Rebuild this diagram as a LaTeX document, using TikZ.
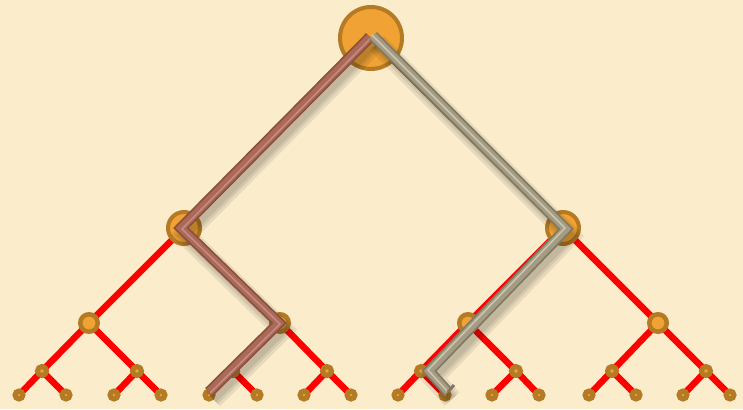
\documentclass[tikz,border=0pt]{standalone}
\usetikzlibrary{calc}

\pgfdeclarelayer{background}
\pgfsetlayers{background,main}

\definecolor{paper}{RGB}{251,236,203}
\definecolor{ring}{RGB}{181,122,36}
\definecolor{core}{RGB}{240,163,52}
\definecolor{branchred}{RGB}{255,0,0}
\definecolor{rosedark}{RGB}{138,80,62}
\definecolor{rosemid}{RGB}{172,106,86}
\definecolor{roselight}{RGB}{196,140,136}
\definecolor{sanddark}{RGB}{128,120,98}
\definecolor{sandmid}{RGB}{164,156,130}
\definecolor{sandlight}{RGB}{204,198,176}

\begin{document}
\begin{tikzpicture}[x=1pt, y=-1pt,
  vert/.style={circle, draw=ring, fill=core, inner sep=0pt, line width=4pt},
  rootvert/.style={vert, minimum size=62pt},
  midvert/.style={vert, minimum size=32pt},
  lowvert/.style={vert, minimum size=17.5pt, line width=4.5pt},
  twigvert/.style={vert, minimum size=9pt, line width=5pt},
  leafvert/.style={vert, minimum size=8pt, line width=5pt},
  branch/.style={branchred, line width=6.5pt},
  beamshadow/.style={black, opacity=0.08, transform canvas={shift={(4,7)}}},
  rosebeam/.style={rosedark, line width=11pt},
  rosecore/.style={rosemid, line width=7.5pt},
  rosestripe/.style={roselight, line width=1.5pt, transform canvas={shift={(1,1)}}},
  sandbeam/.style={sanddark, line width=11pt},
  sandcore/.style={sandmid, line width=7.5pt},
  sandstripe/.style={sandlight, line width=1.5pt, transform canvas={shift={(-1,-1)}}}
]

% tree
\node[rootvert] (root) at (371,38) {};
\node[midvert] (L) at (184,228) {};
\node[midvert] (R) at (563,228) {};
\node[lowvert] (LL) at (89,323) {};
\node[lowvert] (LR) at (280,323) {};
\node[lowvert] (RL) at (468,323) {};
\node[lowvert] (RR) at (658,323) {};
\node[twigvert] (LLL) at (42,371) {};
\node[twigvert] (LLR) at (137,371) {};
\node[twigvert] (LRL) at (233,371) {};
\node[twigvert] (LRR) at (327,371) {};
\node[twigvert] (RLL) at (421,371) {};
\node[twigvert] (RLR) at (516,371) {};
\node[twigvert] (RRL) at (612,371) {};
\node[twigvert] (RRR) at (706,371) {};
\node[leafvert] (LLLL) at (19,395) {};
\node[leafvert] (LLLR) at (66,395) {};
\node[leafvert] (LLRL) at (114,395) {};
\node[leafvert] (LLRR) at (161,395) {};
\node[leafvert] (LRLL) at (209,395) {};
\node[leafvert] (LRLR) at (257,395) {};
\node[leafvert] (LRRL) at (304,395) {};
\node[leafvert] (LRRR) at (351,395) {};
\node[leafvert] (RLLL) at (398,395) {};
\node[leafvert] (RLLR) at (445,395) {};
\node[leafvert] (RLRL) at (492,395) {};
\node[leafvert] (RLRR) at (539,395) {};
\node[leafvert] (RRLL) at (589,395) {};
\node[leafvert] (RRLR) at (636,395) {};
\node[leafvert] (RRRL) at (683,395) {};
\node[leafvert] (RRRR) at (730,395) {};

\begin{pgfonlayer}{background}
\fill[paper] (0,0) rectangle (743,409);
\draw[branch] (root.center) -- (L.center);
\draw[branch] (root.center) -- (R.center);
\draw[branch] (L.center) -- (LL.center);
\draw[branch] (L.center) -- (LR.center);
\draw[branch] (R.center) -- (RL.center);
\draw[branch] (R.center) -- (RR.center);
\draw[branch] (LL.center) -- (LLL.center);
\draw[branch] (LL.center) -- (LLR.center);
\draw[branch] (LR.center) -- (LRL.center);
\draw[branch] (LR.center) -- (LRR.center);
\draw[branch] (RL.center) -- (RLL.center);
\draw[branch] (RL.center) -- (RLR.center);
\draw[branch] (RR.center) -- (RRL.center);
\draw[branch] (RR.center) -- (RRR.center);
\draw[branch] (LLL.center) -- (LLLL.center);
\draw[branch] (LLL.center) -- (LLLR.center);
\draw[branch] (LLR.center) -- (LLRL.center);
\draw[branch] (LLR.center) -- (LLRR.center);
\draw[branch] (LRL.center) -- (LRLL.center);
\draw[branch] (LRL.center) -- (LRLR.center);
\draw[branch] (LRR.center) -- (LRRL.center);
\draw[branch] (LRR.center) -- (LRRR.center);
\draw[branch] (RLL.center) -- (RLLL.center);
\draw[branch] (RLL.center) -- (RLLR.center);
\draw[branch] (RLR.center) -- (RLRL.center);
\draw[branch] (RLR.center) -- (RLRR.center);
\draw[branch] (RRL.center) -- (RRLL.center);
\draw[branch] (RRL.center) -- (RRLR.center);
\draw[branch] (RRR.center) -- (RRRL.center);
\draw[branch] (RRR.center) -- (RRRR.center);
\end{pgfonlayer}

% beam corners
\coordinate (rose0) at ($(root.center)+(-1,-1)$);
\coordinate (rose1) at ($(L.center)+(-3,0)$);
\coordinate (rose2) at ($(LR.center)+(-1,0)$);
\coordinate (rose3) at ($(LRLL.center)+(0,-3)$);
\coordinate (sand0) at ($(root.center)+(2,-2)$);
\coordinate (sand1) at ($(R.center)+(3,1)$);
\coordinate (sand2) at ($(RLL.center)+(8,0)$);
\coordinate (sand3) at ($(RLLR.center)+(3,-3)$);
\coordinate (sandhook) at ($(RLLR.center)+(9,-10)$);

% shadows
\draw[beamshadow, line width=20pt] (rose0) -- (rose1) -- (rose2) -- (rose3);
\draw[beamshadow, line width=14pt] (rose0) -- (rose1) -- (rose2) -- (rose3);
\draw[beamshadow, line width=9pt] (rose0) -- (rose1) -- (rose2) -- (rose3);
\draw[beamshadow, line width=20pt] (sand0) -- (sand1) -- (sand2) -- (sand3);
\draw[beamshadow, line width=14pt] (sand0) -- (sand1) -- (sand2) -- (sand3);
\draw[beamshadow, line width=9pt] (sand0) -- (sand1) -- (sand2) -- (sand3);

% beams
\draw[rosebeam] (rose0) -- (rose1) -- (rose2) -- (rose3);
\draw[rosecore] (rose0) -- (rose1) -- (rose2) -- (rose3);
\draw[rosestripe] (rose0) -- (rose1) -- (rose2) -- (rose3);
\draw[sandbeam] (sand0) -- (sand1) -- (sand2) -- (sand3);
\draw[sandcore] (sand0) -- (sand1) -- (sand2) -- (sand3);
\draw[sandstripe] (sand0) -- (sand1) -- (sand2) -- (sand3);
\draw[sanddark, line width=3pt] (sand3) -- (sandhook);

\end{tikzpicture}
\end{document}
